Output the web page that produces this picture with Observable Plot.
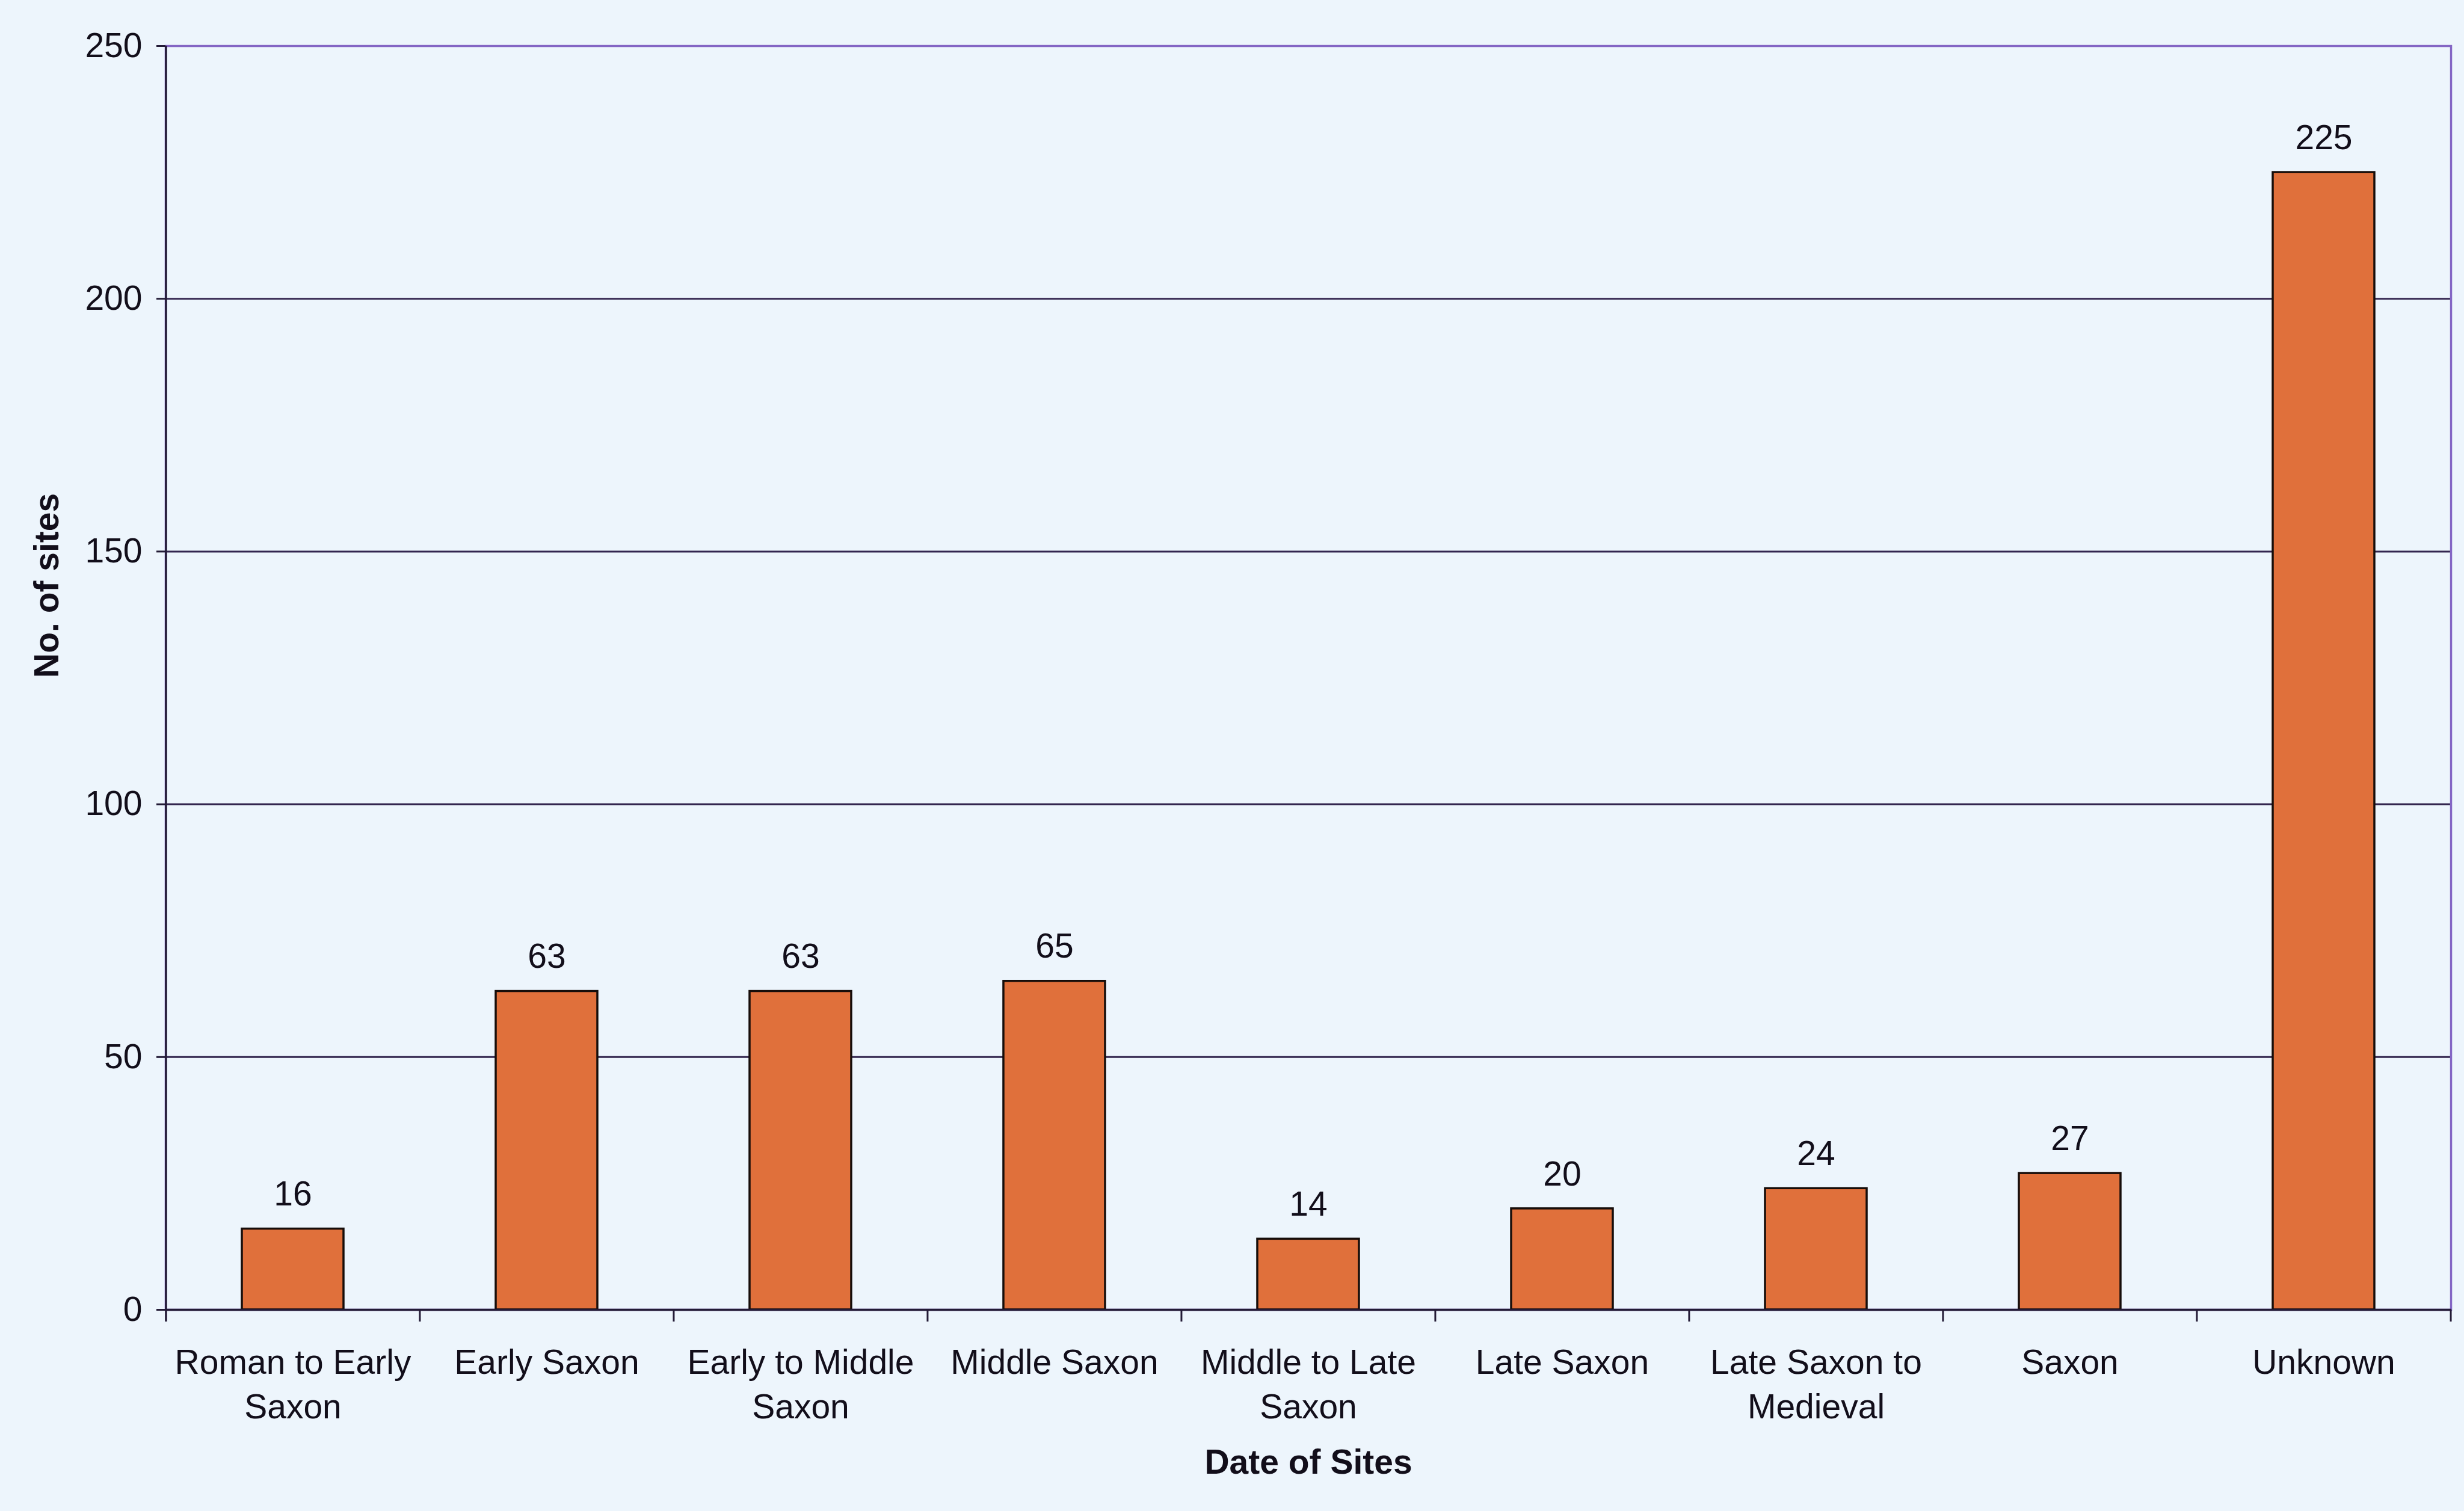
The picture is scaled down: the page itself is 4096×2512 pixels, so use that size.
<!DOCTYPE html>
<html>
<head>
<meta charset="utf-8">
<script src="https://cdn.jsdelivr.net/npm/d3@7"></script>
<script src="https://cdn.jsdelivr.net/npm/@observablehq/plot@0.6"></script>
<style>
  html, body { margin: 0; padding: 0; background: #edf5fc; }
  #chart svg { display: block; }
</style>
</head>
<body>
<div id="chart"></div>
<script>
// ---- data ----
const categories = [
  "Roman to Early Saxon", "Early Saxon", "Early to Middle Saxon", "Middle Saxon",
  "Middle to Late Saxon", "Late Saxon", "Late Saxon to Medieval", "Saxon", "Unknown"
];
const tickLabels = [
  "Roman to Early\nSaxon", "Early Saxon", "Early to Middle\nSaxon", "Middle Saxon",
  "Middle to Late\nSaxon", "Late Saxon", "Late Saxon to\nMedieval", "Saxon", "Unknown"
];
const values = [16, 63, 63, 65, 14, 20, 24, 27, 225];
const yTicks = [0, 50, 100, 150, 200, 250];
const xTitle = "Date of Sites";
const yTitle = "No. of sites";

// ---- layout ----
const W = 4096, H = 2512;
const mL = 275, mR = 22, mT = 76, mB = 335;
const plotW = W - mL - mR, plotH = H - mT - mB;
const step = plotW / categories.length;
const fs = 57;
const dark = "#231b36";
const gridCol = "#33264f";
const purple = "#8466c4";
const ink = "#120e1a";

const data = categories.map((c, i) => ({category: c, value: values[i], label: tickLabels[i]}));

const chart = Plot.plot({
  width: W, height: H,
  marginLeft: mL, marginRight: mR, marginTop: mT, marginBottom: mB,
  style: {background: "#edf5fc", fontFamily: "'Liberation Sans', Arial, sans-serif", color: ink},
  x: {domain: categories, paddingInner: 0.6, paddingOuter: 0.3, axis: null},
  y: {domain: [0, 250], axis: null},
  marks: [
    Plot.ruleY(yTicks.filter(t => t > 0 && t < 250), {stroke: gridCol, strokeWidth: 3}),
    Plot.frame({stroke: purple, strokeWidth: 3.5}),
    Plot.barY(data, {x: "category", y: "value", fill: "#e0703b", stroke: "#160d0a", strokeWidth: 3.5}),
    Plot.ruleY([0], {stroke: dark, strokeWidth: 3.5}),
    // category boundary ticks (left edge of each band) + left axis line
    Plot.ruleX(categories.slice(1), {x: d => d, dx: -step / 2, stroke: dark, strokeWidth: 3, insetTop: plotH, insetBottom: -20}),
    Plot.ruleX(categories.slice(-1), {x: d => d, dx: step / 2, stroke: dark, strokeWidth: 3, insetTop: plotH, insetBottom: -20}),
    Plot.ruleX(categories.slice(0, 1), {x: d => d, dx: -step / 2, stroke: dark, strokeWidth: 3.5, insetBottom: -20}),
    Plot.axisY({ticks: yTicks, tickSize: 15, tickPadding: 24, fontSize: fs, strokeWidth: 3, stroke: dark, label: null}),
    // value labels
    Plot.text(data, {x: "category", y: "value", text: d => String(d.value), fontSize: fs, lineAnchor: "middle", dy: -57, fill: ink}),
    // category labels
    Plot.text(data, {x: "category", text: "label", frameAnchor: "bottom", lineAnchor: "top", dy: 54, lineHeight: 1.3, fontSize: fs, fill: ink}),
    // axis titles
    Plot.text([xTitle], {frameAnchor: "bottom", dy: 272, fontSize: fs, fontWeight: "bold", fill: ink}),
    Plot.text([yTitle], {frameAnchor: "left", dx: -197, rotate: -90, fontSize: fs, fontWeight: "bold", fill: ink})
  ]
});
document.getElementById("chart").appendChild(chart);
</script>
</body>
</html>
